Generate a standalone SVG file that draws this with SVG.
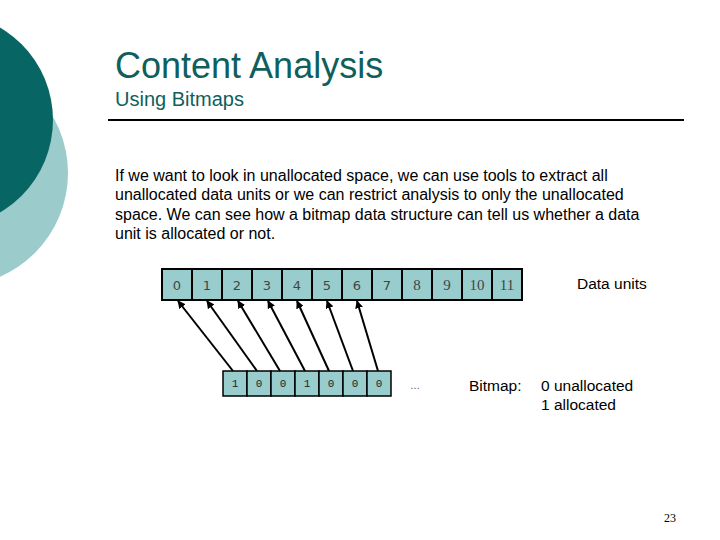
<svg xmlns="http://www.w3.org/2000/svg" width="720" height="540" viewBox="0 0 720 540">
<defs>
<style>
.t{font-family:"Liberation Sans",Arial,sans-serif;}
.title{fill:#0f5f5c;}
.box{fill:#99cccc;stroke:#000;stroke-width:2;}
.bbox{fill:#99cccc;stroke:#000;stroke-width:1.5;}
.num{font-family:"DejaVu Sans",Verdana,sans-serif;font-size:13px;fill:#444;text-anchor:middle;}
.numS{font-family:"Liberation Serif","Times New Roman",serif;font-size:15px;fill:#444;text-anchor:middle;}
.bit{font-family:"Liberation Mono","Courier New",monospace;font-size:11px;fill:#222;text-anchor:middle;}
.arr{stroke:#000;stroke-width:2;fill:none;marker-end:url(#ah);}
.body{font-size:16px;fill:#000;}
</style>
<marker id="ah" viewBox="0 0 10 10" refX="9" refY="5" markerWidth="4" markerHeight="4" orient="auto" markerUnits="strokeWidth">
<path d="M0,0 L10,5 L0,10 z" fill="#000"/>
</marker>
</defs>
<rect width="720" height="540" fill="#fff"/>
<circle cx="-45" cy="173" r="113" fill="#9ccbcb"/>
<circle cx="-54" cy="120" r="107" fill="#076663"/>
<text class="t title" x="115" y="78" font-size="36">Content Analysis</text>
<text class="t title" x="115" y="106" font-size="20">Using Bitmaps</text>
<line x1="108" y1="120" x2="684" y2="120" stroke="#000" stroke-width="2"/>
<g class="t body">
<text x="115" y="181">If we want to look in unallocated space, we can use tools to extract all</text>
<text x="115" y="200">unallocated data units or we can restrict analysis to only the unallocated</text>
<text x="115" y="220">space. We can see how a bitmap data structure can tell us whether a data</text>
<text x="115" y="239">unit is allocated or not.</text>
</g>
<g id="data-units">
<rect class="box" x="162" y="269" width="30" height="31"/><text class="num" x="177" y="290">0</text>
<rect class="box" x="192" y="269" width="30" height="31"/><text class="num" x="207" y="290">1</text>
<rect class="box" x="222" y="269" width="30" height="31"/><text class="num" x="237" y="290">2</text>
<rect class="box" x="252" y="269" width="30" height="31"/><text class="num" x="267" y="290">3</text>
<rect class="box" x="282" y="269" width="30" height="31"/><text class="num" x="297" y="290">4</text>
<rect class="box" x="312" y="269" width="30" height="31"/><text class="num" x="327" y="290">5</text>
<rect class="box" x="342" y="269" width="30" height="31"/><text class="num" x="357" y="290">6</text>
<rect class="box" x="372" y="269" width="30" height="31"/><text class="num" x="387" y="290">7</text>
<rect class="box" x="402" y="269" width="30" height="31"/><text class="numS" x="417" y="290">8</text>
<rect class="box" x="432" y="269" width="30" height="31"/><text class="numS" x="447" y="290">9</text>
<rect class="box" x="462" y="269" width="30" height="31"/><text class="numS" x="477" y="290">10</text>
<rect class="box" x="492" y="269" width="30" height="31"/><text class="numS" x="507" y="290">11</text>
</g>
<g id="bitmap">
<rect class="bbox" x="223" y="371" width="24" height="25"/><text class="bit" x="235" y="387">1</text>
<rect class="bbox" x="247" y="371" width="24" height="25"/><text class="bit" x="259" y="387">0</text>
<rect class="bbox" x="271" y="371" width="24" height="25"/><text class="bit" x="283" y="387">0</text>
<rect class="bbox" x="295" y="371" width="24" height="25"/><text class="bit" x="307" y="387">1</text>
<rect class="bbox" x="319" y="371" width="24" height="25"/><text class="bit" x="331" y="387">0</text>
<rect class="bbox" x="343" y="371" width="24" height="25"/><text class="bit" x="355" y="387">0</text>
<rect class="bbox" x="367" y="371" width="24" height="25"/><text class="bit" x="379" y="387">0</text>
</g>
<g id="connectors">
<line class="arr" x1="233" y1="371" x2="178" y2="301"/>
<line class="arr" x1="257" y1="371" x2="207" y2="301"/>
<line class="arr" x1="280" y1="371" x2="238" y2="301"/>
<line class="arr" x1="305" y1="371" x2="268" y2="301"/>
<line class="arr" x1="329" y1="371" x2="297" y2="301"/>
<line class="arr" x1="353" y1="371" x2="327" y2="301"/>
<line class="arr" x1="378" y1="371" x2="357" y2="301"/>
</g>
<g id="labels" class="t">
<text x="577" y="289" font-size="15.5">Data units</text>
<text x="410" y="389" font-size="10" fill="#555">…</text>
<text x="469" y="391" font-size="15.5">Bitmap:</text>
<text x="541" y="391" font-size="15.5">0 unallocated</text>
<text x="541" y="410" font-size="15.5">1 allocated</text>
</g>
<text x="664" y="522" font-family="Liberation Serif,serif" font-size="12">23</text>
</svg>
